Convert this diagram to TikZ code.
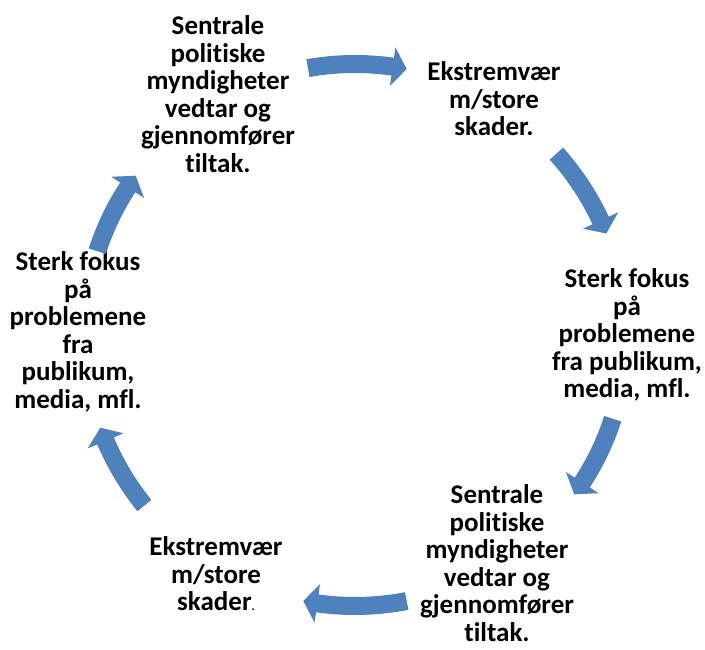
\documentclass[tikz,border=0pt]{standalone}
\usepackage{fontspec}
\setmainfont{Carlito}[Ligatures=NoCommon]
\definecolor{arrowblue}{HTML}{4F81BD}
\newcommand{\cyclearrow}[2]{%
  \fill[cycle arrow] (#1:280) arc[start angle=#1, end angle=#2+3, radius=280]
    -- (#2+3:290.5) -- (#2:271) -- (#2+3:251.5) -- (#2+3:262)
    arc[start angle=#2+3, end angle=#1, radius=262] -- cycle;}

\begin{document}
\begin{tikzpicture}[x=1pt,y=1pt,
            every node/.style={align=center,inner sep=0pt,font=\bfseries\fontsize{27}{27.5}\selectfont},
            cycle arrow/.style={fill=arrowblue}
        ]
        \useasboundingbox (-355,-315) rectangle (350,335);
        \node (policy 1) at (-137,241) {Sentrale\\politiske\\myndigheter\\vedtar og\\gjennomfører\\tiltak.};
        \node (weather 1) at (139,236) {Ekstremvær\\m/store\\skader.};
        \node (focus 1) at (272,0) {Sterk fokus\\på\\problemene\\fra publikum,\\media, mfl.};
        \node (policy 2) at (142,-228) {Sentrale\\politiske\\myndigheter\\vedtar og\\gjennomfører\\tiltak.};
        \node (weather 2) at (-139,-239) {Ekstremvær\\m/store\\skader{\fontsize{12}{12}\selectfont.}};
        \node (focus 2) at (-277,3) {Sterk fokus\\på\\problemene\\fra\\publikum,\\media, mfl.};

        \cyclearrow{100}{79}
        \cyclearrow{42}{22}
        \cyclearrow{-18}{-36}
        \cyclearrow{-79}{-101}
        \cyclearrow{-141}{-160}
        \cyclearrow{162}{144}
    \end{tikzpicture}
\end{document}
